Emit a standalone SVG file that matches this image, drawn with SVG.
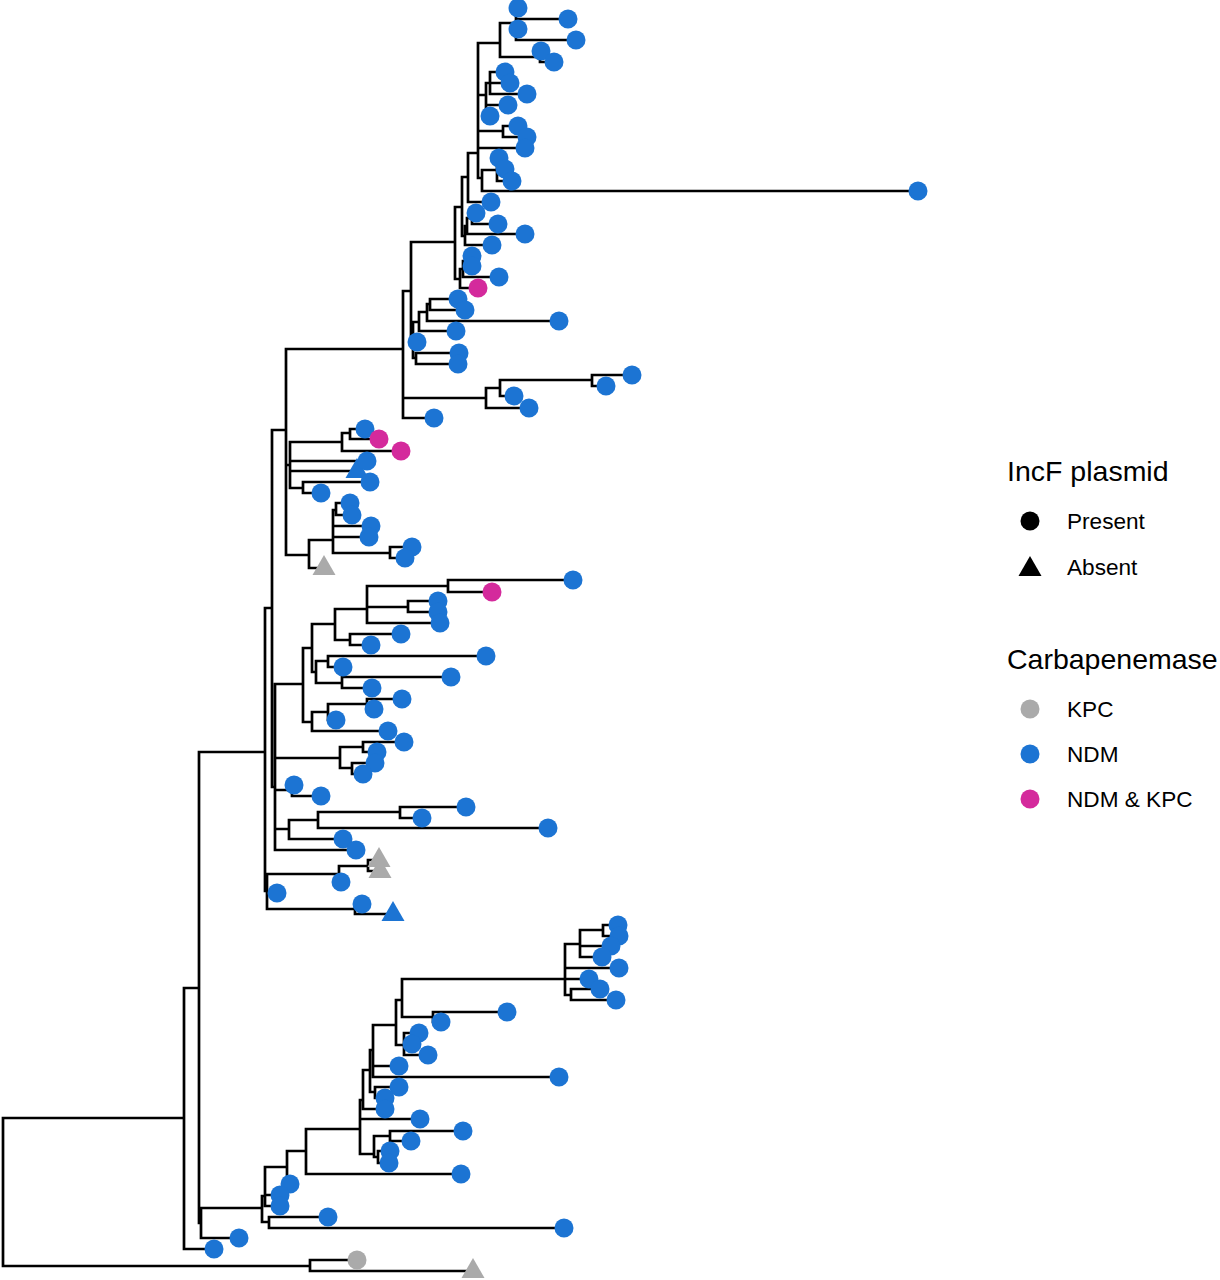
<svg xmlns="http://www.w3.org/2000/svg" xmlns:xlink="http://www.w3.org/1999/xlink" width="1220" height="1280" viewBox="0 0 1220 1280">
<defs>
<style>
.edge{fill:none;stroke:#000;stroke-width:2.7;stroke-linecap:square;stroke-linejoin:miter}
.b{fill:#1C74D3}
.m{fill:#D42A9C}
.g{fill:#AAAAAA}
.k{fill:#000}
.title{font-family:"Liberation Sans",Arial,Helvetica,sans-serif;font-size:28.5px;fill:#000}
.lab{font-family:"Liberation Sans",Arial,Helvetica,sans-serif;font-size:22.6px;fill:#000}
</style>
<path id="tri" d="M0,-13 L11.5,7 L-11.5,7 Z"/>
</defs>
<rect width="1220" height="1280" fill="#fff"/>
<g id="connectors">
<path class="edge" d="M3 1118V1266 M3 1118H184 M3 1266H310
M310 1260V1271 M310 1260H357 M310 1271H473
M184 988V1249 M184 988H199 M184 1249H214
M199 752V1223 M199 752H265 M199 1223H201
M201 1208V1238 M201 1208H262 M201 1238H239
M262 1196V1222 M262 1196H265 M262 1222H269
M269 1217V1228 M269 1217H328 M269 1228H564
M265 1167V1206 M265 1167H287 M265 1195H280 M265 1206H280
M287 1151V1184 M287 1151H306 M287 1184H290
M306 1129V1174 M306 1129H360 M306 1174H461
M360 1100V1154 M360 1100H363 M360 1119H420 M360 1154H374
M374 1136V1157 M374 1136H390 M374 1157H378
M390 1131V1141 M390 1131H463 M390 1141H411
M378 1151V1163 M378 1151H390 M378 1163H389
M363 1070V1109 M363 1070H370 M363 1109H385
M370 1050V1092 M370 1050H373 M370 1092H375
M375 1087V1098 M375 1087H399 M375 1098H385
M373 1025V1077 M373 1025H396 M373 1066H399 M373 1077H559
M396 1000V1045 M396 1000H402 M396 1045H404
M404 1033V1055 M404 1033H419 M404 1044H412 M404 1055H428
M402 979V1017 M402 979H565 M402 1017H433
M433 1012V1022 M433 1012H507 M433 1022H441
M565 944V995 M565 944H580 M565 968H619 M565 979H589 M565 995H571
M580 930V957 M580 930H603 M580 946H611 M580 957H602
M603 925V936 M603 925H618 M603 936H619
M571 989V1000 M571 989H600 M571 1000H616
M265 608V891 M265 608H272 M265 891H267
M267 874V909 M267 874H339 M267 893H277 M267 909H355
M339 866V882 M339 866H368 M339 882H341
M368 860V871 M368 860H379 M368 871H380
M355 904V914 M355 904H362 M355 914H393
M272 430V787 M272 430H286 M272 787H275
M275 684V850 M275 684H303 M275 758H340 M275 790H292 M275 829H289 M275 850H356
M303 648V722 M303 648H312 M303 722H312
M312 624V672 M312 624H335 M312 672H316
M316 661V683 M316 661H328 M316 683H342
M328 656V667 M328 656H486 M328 667H343
M342 677V688 M342 677H451 M342 688H372
M335 609V640 M335 609H367 M335 640H350
M350 634V645 M350 634H401 M350 645H371
M367 586V623 M367 586H448 M367 607H408 M367 623H440
M448 580V592 M448 580H573 M448 592H492
M408 601V612 M408 601H438 M408 612H438
M312 712V731 M312 712H328 M312 731H388
M328 704V720 M328 704H367 M328 720H336
M367 699V709 M367 699H402 M367 709H374
M340 747V768 M340 747H363 M340 768H352
M363 742V752 M363 742H404 M363 752H377
M352 763V774 M352 763H375 M352 774H363
M292 785V796 M292 785H294 M292 796H321
M289 820V839 M289 820H318 M289 839H343
M318 812V828 M318 812H400 M318 828H548
M400 807V818 M400 807H466 M400 818H422
M286 349V555 M286 349H403 M286 465H290 M286 555H309
M290 442V488 M290 442H342 M290 461H367 M290 471H357 M290 488H303
M342 433V451 M342 433H350 M342 451H401
M350 429V439 M350 429H365 M350 439H379
M303 482V493 M303 482H370 M303 493H321
M309 540V568 M309 540H333 M309 568H324
M333 510V553 M333 510H336 M333 526H371 M333 537H369 M333 553H390
M336 503V515 M336 503H350 M336 515H352
M390 547V558 M390 547H412 M390 558H405
M403 291V418 M403 291H411 M403 398H486 M403 418H434
M486 388V408 M486 388H500 M486 408H529
M500 380V396 M500 380H592 M500 396H514
M592 375V386 M592 375H632 M592 386H606
M411 242V340 M411 242H455 M411 340H413
M413 322V358 M413 322H419 M413 342H417 M413 358H416
M416 353V364 M416 353H459 M416 364H458
M419 312V331 M419 312H427 M419 331H456
M427 304V321 M427 304H430 M427 321H559
M430 299V310 M430 299H458 M430 310H465
M455 207V279 M455 207H462 M455 279H460
M460 269V288 M460 269H463 M460 288H478
M463 261V277 M463 261H466 M463 277H499
M466 256V266 M466 256H472 M466 266H472
M462 177V236 M462 177H468 M462 236H465
M465 226V245 M465 226H467 M465 245H492
M467 218V234 M467 218H472 M467 234H525
M472 213V224 M472 213H476 M472 224H498
M468 153V202 M468 153H478 M468 202H491
M478 43V178 M478 43H500 M478 95H486 M478 131H503 M478 148H525 M478 178H482
M482 170V191 M482 170H497 M482 191H918
M497 158V181 M497 158H499 M497 169H505 M497 181H512
M503 126V137 M503 126H518 M503 137H527
M486 83V116 M486 83H490 M486 105H508 M486 116H490
M490 72V94 M490 72H505 M490 83H510 M490 94H527
M500 23V57 M500 23H516 M500 57H540
M516 8V40 M516 8H518 M516 19H568 M516 29H518 M516 40H576
M540 51V62 M540 51H541 M540 62H554"/>
</g>
<g id="tips">
<use id="tip-44" class="b" xlink:href="#tri" href="#tri" x="357" y="471"/>
<use id="tip-53" class="g" xlink:href="#tri" href="#tri" x="324" y="568"/>
<use id="tip-80" class="g" xlink:href="#tri" href="#tri" x="379" y="860"/>
<use id="tip-81" class="g" xlink:href="#tri" href="#tri" x="380" y="871"/>
<use id="tip-85" class="b" xlink:href="#tri" href="#tri" x="393" y="914"/>
<use id="tip-118" class="g" xlink:href="#tri" href="#tri" x="473" y="1271"/>
<circle id="tip-1" class="b" cx="518" cy="8" r="9.5"/>
<circle id="tip-2" class="b" cx="568" cy="19" r="9.5"/>
<circle id="tip-3" class="b" cx="518" cy="29" r="9.5"/>
<circle id="tip-4" class="b" cx="576" cy="40" r="9.5"/>
<circle id="tip-5" class="b" cx="541" cy="51" r="9.5"/>
<circle id="tip-6" class="b" cx="554" cy="62" r="9.5"/>
<circle id="tip-7" class="b" cx="505" cy="72" r="9.5"/>
<circle id="tip-8" class="b" cx="510" cy="83" r="9.5"/>
<circle id="tip-9" class="b" cx="527" cy="94" r="9.5"/>
<circle id="tip-10" class="b" cx="508" cy="105" r="9.5"/>
<circle id="tip-11" class="b" cx="490" cy="116" r="9.5"/>
<circle id="tip-12" class="b" cx="518" cy="126" r="9.5"/>
<circle id="tip-13" class="b" cx="527" cy="137" r="9.5"/>
<circle id="tip-14" class="b" cx="525" cy="148" r="9.5"/>
<circle id="tip-15" class="b" cx="499" cy="158" r="9.5"/>
<circle id="tip-16" class="b" cx="505" cy="169" r="9.5"/>
<circle id="tip-17" class="b" cx="512" cy="181" r="9.5"/>
<circle id="tip-18" class="b" cx="918" cy="191" r="9.5"/>
<circle id="tip-19" class="b" cx="491" cy="202" r="9.5"/>
<circle id="tip-20" class="b" cx="476" cy="213" r="9.5"/>
<circle id="tip-21" class="b" cx="498" cy="224" r="9.5"/>
<circle id="tip-22" class="b" cx="525" cy="234" r="9.5"/>
<circle id="tip-23" class="b" cx="492" cy="245" r="9.5"/>
<circle id="tip-24" class="b" cx="472" cy="256" r="9.5"/>
<circle id="tip-25" class="b" cx="472" cy="266" r="9.5"/>
<circle id="tip-26" class="b" cx="499" cy="277" r="9.5"/>
<circle id="tip-27" class="m" cx="478" cy="288" r="9.5"/>
<circle id="tip-28" class="b" cx="458" cy="299" r="9.5"/>
<circle id="tip-29" class="b" cx="465" cy="310" r="9.5"/>
<circle id="tip-30" class="b" cx="559" cy="321" r="9.5"/>
<circle id="tip-31" class="b" cx="456" cy="331" r="9.5"/>
<circle id="tip-32" class="b" cx="417" cy="342" r="9.5"/>
<circle id="tip-33" class="b" cx="459" cy="353" r="9.5"/>
<circle id="tip-34" class="b" cx="458" cy="364" r="9.5"/>
<circle id="tip-35" class="b" cx="632" cy="375" r="9.5"/>
<circle id="tip-36" class="b" cx="606" cy="386" r="9.5"/>
<circle id="tip-37" class="b" cx="514" cy="396" r="9.5"/>
<circle id="tip-38" class="b" cx="529" cy="408" r="9.5"/>
<circle id="tip-39" class="b" cx="434" cy="418" r="9.5"/>
<circle id="tip-40" class="b" cx="365" cy="429" r="9.5"/>
<circle id="tip-41" class="m" cx="379" cy="439" r="9.5"/>
<circle id="tip-42" class="m" cx="401" cy="451" r="9.5"/>
<circle id="tip-43" class="b" cx="367" cy="461" r="9.5"/>
<circle id="tip-45" class="b" cx="370" cy="482" r="9.5"/>
<circle id="tip-46" class="b" cx="321" cy="493" r="9.5"/>
<circle id="tip-47" class="b" cx="350" cy="503" r="9.5"/>
<circle id="tip-48" class="b" cx="352" cy="515" r="9.5"/>
<circle id="tip-49" class="b" cx="371" cy="526" r="9.5"/>
<circle id="tip-50" class="b" cx="369" cy="537" r="9.5"/>
<circle id="tip-51" class="b" cx="412" cy="547" r="9.5"/>
<circle id="tip-52" class="b" cx="405" cy="558" r="9.5"/>
<circle id="tip-54" class="b" cx="573" cy="580" r="9.5"/>
<circle id="tip-55" class="m" cx="492" cy="592" r="9.5"/>
<circle id="tip-56" class="b" cx="438" cy="601" r="9.5"/>
<circle id="tip-57" class="b" cx="438" cy="612" r="9.5"/>
<circle id="tip-58" class="b" cx="440" cy="623" r="9.5"/>
<circle id="tip-59" class="b" cx="401" cy="634" r="9.5"/>
<circle id="tip-60" class="b" cx="371" cy="645" r="9.5"/>
<circle id="tip-61" class="b" cx="486" cy="656" r="9.5"/>
<circle id="tip-62" class="b" cx="343" cy="667" r="9.5"/>
<circle id="tip-63" class="b" cx="451" cy="677" r="9.5"/>
<circle id="tip-64" class="b" cx="372" cy="688" r="9.5"/>
<circle id="tip-65" class="b" cx="402" cy="699" r="9.5"/>
<circle id="tip-66" class="b" cx="374" cy="709" r="9.5"/>
<circle id="tip-67" class="b" cx="336" cy="720" r="9.5"/>
<circle id="tip-68" class="b" cx="388" cy="731" r="9.5"/>
<circle id="tip-69" class="b" cx="404" cy="742" r="9.5"/>
<circle id="tip-70" class="b" cx="377" cy="752" r="9.5"/>
<circle id="tip-71" class="b" cx="375" cy="763" r="9.5"/>
<circle id="tip-72" class="b" cx="363" cy="774" r="9.5"/>
<circle id="tip-73" class="b" cx="294" cy="785" r="9.5"/>
<circle id="tip-74" class="b" cx="321" cy="796" r="9.5"/>
<circle id="tip-75" class="b" cx="466" cy="807" r="9.5"/>
<circle id="tip-76" class="b" cx="422" cy="818" r="9.5"/>
<circle id="tip-77" class="b" cx="548" cy="828" r="9.5"/>
<circle id="tip-78" class="b" cx="343" cy="839" r="9.5"/>
<circle id="tip-79" class="b" cx="356" cy="850" r="9.5"/>
<circle id="tip-82" class="b" cx="341" cy="882" r="9.5"/>
<circle id="tip-83" class="b" cx="277" cy="893" r="9.5"/>
<circle id="tip-84" class="b" cx="362" cy="904" r="9.5"/>
<circle id="tip-86" class="b" cx="618" cy="925" r="9.5"/>
<circle id="tip-87" class="b" cx="619" cy="936" r="9.5"/>
<circle id="tip-88" class="b" cx="611" cy="946" r="9.5"/>
<circle id="tip-89" class="b" cx="602" cy="957" r="9.5"/>
<circle id="tip-90" class="b" cx="619" cy="968" r="9.5"/>
<circle id="tip-91" class="b" cx="589" cy="979" r="9.5"/>
<circle id="tip-92" class="b" cx="600" cy="989" r="9.5"/>
<circle id="tip-93" class="b" cx="616" cy="1000" r="9.5"/>
<circle id="tip-94" class="b" cx="507" cy="1012" r="9.5"/>
<circle id="tip-95" class="b" cx="441" cy="1022" r="9.5"/>
<circle id="tip-96" class="b" cx="419" cy="1033" r="9.5"/>
<circle id="tip-97" class="b" cx="412" cy="1044" r="9.5"/>
<circle id="tip-98" class="b" cx="428" cy="1055" r="9.5"/>
<circle id="tip-99" class="b" cx="399" cy="1066" r="9.5"/>
<circle id="tip-100" class="b" cx="559" cy="1077" r="9.5"/>
<circle id="tip-101" class="b" cx="399" cy="1087" r="9.5"/>
<circle id="tip-102" class="b" cx="385" cy="1098" r="9.5"/>
<circle id="tip-103" class="b" cx="385" cy="1109" r="9.5"/>
<circle id="tip-104" class="b" cx="420" cy="1119" r="9.5"/>
<circle id="tip-105" class="b" cx="463" cy="1131" r="9.5"/>
<circle id="tip-106" class="b" cx="411" cy="1141" r="9.5"/>
<circle id="tip-107" class="b" cx="390" cy="1151" r="9.5"/>
<circle id="tip-108" class="b" cx="389" cy="1163" r="9.5"/>
<circle id="tip-109" class="b" cx="461" cy="1174" r="9.5"/>
<circle id="tip-110" class="b" cx="290" cy="1184" r="9.5"/>
<circle id="tip-111" class="b" cx="280" cy="1195" r="9.5"/>
<circle id="tip-112" class="b" cx="280" cy="1206" r="9.5"/>
<circle id="tip-113" class="b" cx="328" cy="1217" r="9.5"/>
<circle id="tip-114" class="b" cx="564" cy="1228" r="9.5"/>
<circle id="tip-115" class="b" cx="239" cy="1238" r="9.5"/>
<circle id="tip-116" class="b" cx="214" cy="1249" r="9.5"/>
<circle id="tip-117" class="g" cx="357" cy="1260" r="9.5"/>
</g>
<g id="legend">
<text class="title" x="1007" y="481">IncF plasmid</text>
<circle class="k" cx="1030" cy="521" r="9.5"/>
<text class="lab" x="1067" y="529">Present</text>
<use class="k" xlink:href="#tri" href="#tri" x="1030" y="569"/>
<text class="lab" x="1067" y="575">Absent</text>
<text class="title" x="1007" y="669">Carbapenemase</text>
<circle class="g" cx="1030" cy="709" r="9.5"/>
<text class="lab" x="1067" y="717">KPC</text>
<circle class="b" cx="1030" cy="754" r="9.5"/>
<text class="lab" x="1067" y="762">NDM</text>
<circle class="m" cx="1030" cy="799" r="9.5"/>
<text class="lab" x="1067" y="807">NDM &amp; KPC</text>
</g>
</svg>
